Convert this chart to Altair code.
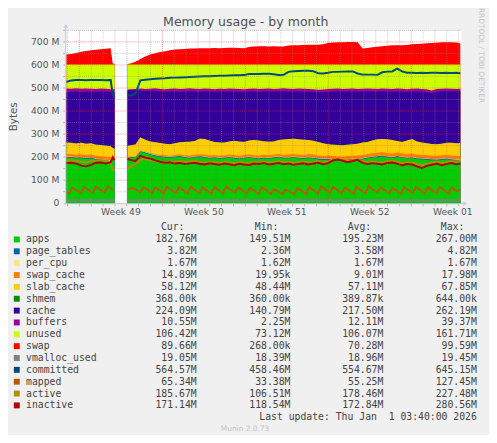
import altair as alt
import pandas as pd

# ---------------- data (values in M bytes) ----------------
RAM_TOTAL = 602  # flat top of the 'unused' band

# sample times: hours from the left edge of an 800 h window (2 h per pixel); gap = no data
hours_main = [0, 10, 20, 30, 40, 50, 60, 70, 80, 90, 94, 98] + [124, 130] + list(range(140, 800, 10)) + [798]
seg_main = ["a"] * 12 + ["b"] * 69

apps = [197, 197, 194, 196, 192, 194, 188, 186, 183, 180, 183, 182,
        196, 198, 198, 222, 218, 210, 205, 200, 198, 196,
        199, 201, 197, 195, 198, 200, 198, 194, 196, 193,
        195, 197, 194, 192, 195, 197, 194, 192, 195, 193,
        196, 198, 195, 195, 197, 195, 193, 196, 194, 190,
        188, 189, 187, 185, 184, 186, 188, 189, 191, 195,
        198, 200, 203, 199, 196, 201, 197, 194, 196, 192,
        190, 188, 187, 186, 188, 190, 187, 185, 183]
page_tables = [3.9, 3.8, 3.9, 4.0, 3.8, 3.9, 3.8, 3.7, 3.8, 3.7, 3.4, 3.2,
               2.4, 2.5, 2.8, 3.1, 3.2, 3.3, 3.4, 3.4, 3.5, 3.5,
               3.6, 3.5, 3.6, 3.6, 3.5, 3.6, 3.7, 3.6, 3.6, 3.5,
               3.6, 3.7, 3.6, 3.6, 3.7, 3.6, 3.5, 3.6, 3.7, 3.6,
               3.6, 3.7, 3.6, 3.5, 3.6, 3.7, 3.6, 3.6, 3.7, 3.6,
               3.5, 3.6, 3.7, 3.6, 3.6, 3.7, 3.6, 3.5, 3.6, 3.7,
               3.6, 3.7, 3.8, 3.7, 3.6, 3.7, 3.8, 3.7, 3.6, 3.7,
               3.8, 3.7, 3.7, 3.8, 3.7, 3.8, 3.8, 3.7, 3.82]
per_cpu = [1.67, 1.67, 1.67, 1.67, 1.67, 1.67, 1.67, 1.67, 1.67, 1.67, 1.67, 1.67,
           1.62, 1.64, 1.66, 1.67, 1.67, 1.67, 1.67, 1.67, 1.67, 1.67,
           1.67, 1.67, 1.67, 1.67, 1.67, 1.67, 1.67, 1.67, 1.67, 1.67,
           1.67, 1.67, 1.67, 1.67, 1.67, 1.67, 1.67, 1.67, 1.67, 1.67,
           1.67, 1.67, 1.67, 1.67, 1.67, 1.67, 1.67, 1.67, 1.67, 1.67,
           1.67, 1.67, 1.67, 1.67, 1.67, 1.67, 1.67, 1.67, 1.67, 1.67,
           1.67, 1.67, 1.67, 1.67, 1.67, 1.67, 1.67, 1.67, 1.67, 1.67,
           1.67, 1.67, 1.67, 1.67, 1.67, 1.67, 1.67, 1.67, 1.67]
swap_cache = [10.5, 10.8, 11.2, 11.0, 11.6, 11.9, 12.1, 12.4, 12.2, 12.8, 2.0, 0.5,
              0.1, 0.2, 0.9, 1.8, 2.4, 2.9, 3.8, 4.1, 4.9, 5.3,
              5.4, 6.2, 6.1, 6.8, 7.0, 7.1, 7.6, 7.5, 7.9, 8.2,
              8.1, 8.6, 8.5, 9.0, 8.9, 9.5, 9.4, 9.9, 9.8, 10.3,
              10.2, 10.7, 10.6, 11.2, 11.0, 11.5, 11.4, 11.8, 11.7, 12.2,
              12.0, 12.5, 12.3, 12.6, 12.7, 13.1, 12.9, 13.2, 13.1, 13.4,
              13.3, 13.7, 13.6, 13.9, 13.8, 14.2, 14.0, 14.3, 14.2, 14.5,
              14.4, 14.6, 14.5, 14.7, 14.6, 14.8, 14.7, 14.9, 14.9]
slab_cache = [50.2, 49.1, 48.6, 49.9, 48.7, 48.9, 48.5, 49.1, 49.0, 48.8, 49.5, 49.6,
              48.5, 49.0, 51.0, 57.0, 50.5, 50.0, 51.0, 52.6, 50.0, 49.5,
              50.3, 52.5, 57.6, 59.9, 59.7, 67.6, 67.5, 65.2, 56.8, 57.5,
              54.6, 57.1, 63.2, 61.7, 56.8, 60.2, 66.3, 64.8, 58.9, 58.4,
              56.5, 60.0, 66.1, 67.0, 66.7, 66.2, 66.3, 60.9, 60.0, 58.5,
              54.7, 49.2, 49.4, 50.1, 50.0, 49.6, 49.8, 50.5, 53.6, 52.3,
              55.4, 58.0, 57.1, 58.8, 58.9, 49.5, 49.7, 58.4, 63.5, 56.2,
              53.3, 52.1, 50.2, 50.0, 50.1, 51.9, 55.0, 54.8, 58.1]
shmem = [0.40, 0.40, 0.40, 0.40, 0.40, 0.40, 0.40, 0.40, 0.40, 0.40, 0.40, 0.40,
         0.36, 0.36, 0.37, 0.37, 0.37, 0.37, 0.37, 0.37, 0.37, 0.37,
         0.37, 0.37, 0.37, 0.37, 0.37, 0.37, 0.37, 0.37, 0.37, 0.37,
         0.37, 0.37, 0.37, 0.37, 0.37, 0.37, 0.37, 0.37, 0.37, 0.37,
         0.37, 0.37, 0.37, 0.37, 0.37, 0.37, 0.37, 0.37, 0.37, 0.37,
         0.37, 0.37, 0.37, 0.37, 0.37, 0.37, 0.37, 0.37, 0.37, 0.37,
         0.37, 0.37, 0.37, 0.37, 0.37, 0.37, 0.37, 0.37, 0.37, 0.37,
         0.37, 0.37, 0.37, 0.37, 0.37, 0.37, 0.37, 0.37, 0.37]
cache = [218.6, 219.4, 224.5, 219.4, 226.0, 222.5, 228.7, 231.8, 234.1, 235.7, 241.8, 246.2,
         241.7, 239.1, 235.4, 203.5, 210.4, 218.4, 222.5, 222.6, 224.4, 228.5,
         225.6, 217.6, 218.6, 219.6, 213.6, 203.6, 207.2, 211.6, 216.6, 221.6,
         220.6, 217.6, 212.6, 215.6, 216.6, 212.6, 210.6, 210.6, 215.6, 218.6,
         216.6, 210.6, 208.6, 206.1, 203.6, 207.6, 207.6, 209.6, 212.6, 213.6,
         221.6, 226.6, 230.6, 232.6, 232.6, 230.6, 228.6, 225.6, 221.6, 219.6,
         211.6, 206.6, 207.6, 207.6, 209.6, 214.6, 218.6, 210.6, 206.6, 217.6,
         220.6, 220.6, 219.6, 227.6, 226.6, 224.6, 223.6, 225.6, 224.8]
buffers = [16, 15, 15, 14, 14, 14, 13, 13, 13, 12, 12, 12,
           3, 4, 6, 8, 9, 10, 11, 11, 12, 12,
           12, 13, 12, 12, 13, 12, 12, 13, 12, 11,
           12, 12, 13, 12, 11, 12, 12, 13, 12, 12,
           11, 12, 13, 12, 12, 12, 13, 12, 11, 12,
           12, 13, 12, 12, 11, 12, 13, 12, 12, 12,
           13, 12, 11, 12, 12, 13, 12, 12, 11, 12,
           12, 13, 12, 11, 12, 11, 11, 10, 10.5]
swap = [43, 46, 50, 55, 59, 62, 64, 66, 68, 71, 4, 3,
        2, 4, 12, 24, 35, 43, 49, 54, 58, 62,
        65, 66, 67, 69, 69, 70, 70, 71, 72, 71,
        72, 73, 73, 72, 71, 76, 78, 79, 79, 78,
        79, 78, 78, 82, 83, 84, 85, 86, 86, 86,
        88, 93, 95, 96, 97, 98, 98, 97, 69, 72,
        75, 77, 79, 81, 83, 83, 83, 85, 88, 89,
        90, 92, 93, 94, 96, 97, 96, 95, 91]

committed = [526, 533, 535, 535, 534, 535, 535, 535, 534, 535, 470, 459,
             470, 467, 475, 533, 536, 538, 540, 541, 542, 544,
             545, 546, 547, 548, 549, 550, 551, 551, 552, 553,
             553, 554, 555, 555, 556, 561, 561, 561, 562, 562,
             560, 556, 557, 570, 573, 574, 575, 575, 573, 564,
             563, 566, 570, 570, 571, 572, 572, 563, 558, 558,
             558, 557, 568, 571, 572, 584, 572, 566, 566, 565,
             566, 565, 566, 566, 565, 566, 565, 566, 564]
active = [185, 186, 184, 180, 178, 182, 186, 187, 183, 176, 145, 140,
          150, 158, 170, 188, 192, 186, 183, 180, 178, 182,
          179, 183, 178, 181, 184, 179, 176, 180, 178, 175,
          179, 177, 174, 178, 176, 174, 179, 177, 181, 176,
          178, 182, 177, 180, 175, 178, 181, 176, 179, 183,
          177, 181, 190, 192, 188, 184, 187, 190, 182, 178,
          181, 178, 176, 182, 184, 180, 174, 178, 176, 170,
          165, 172, 176, 180, 174, 178, 182, 180, 185]
inactive = [175, 176, 172, 163, 160, 166, 176, 177, 172, 178, 200, 186,
            192, 188, 183, 205, 198, 194, 186, 180, 176, 178,
            172, 175, 170, 173, 176, 171, 168, 173, 170, 167,
            172, 169, 165, 171, 168, 166, 172, 170, 174, 168,
            171, 175, 169, 172, 167, 170, 173, 168, 172, 176,
            169, 174, 186, 190, 184, 178, 183, 188, 175, 170,
            174, 171, 168, 175, 177, 172, 165, 170, 168, 160,
            152, 162, 167, 172, 165, 170, 174, 169, 171]

# mapped: daily saw-tooth, sampled every 6 h
hours_mapped = list(range(0, 97, 6)) + list(range(126, 799, 6))
seg_mapped = ["a"] * 17 + ["b"] * 113
mapped = [50, 44, 68, 60, 52, 45, 70, 62, 53, 46, 72, 63, 55, 47, 73, 64, 58,
          58, 66, 62, 55, 48, 70, 62, 53, 45, 68, 60, 51, 44, 72, 63, 52,
          46, 69, 61, 52, 43, 71, 62, 51, 45, 68, 60, 50, 42, 70, 61, 52,
          44, 73, 63, 53, 46, 69, 60, 51, 43, 67, 59, 50, 41, 70, 61, 51,
          40, 60, 54, 47, 41, 58, 52, 45, 42, 66, 58, 49, 40, 70, 61, 51,
          43, 73, 64, 53, 45, 71, 62, 52, 44, 68, 60, 50, 42, 70, 61, 51,
          45, 74, 64, 54, 47, 69, 61, 52, 43, 67, 59, 50, 41, 70, 62, 51,
          44, 72, 63, 52, 42, 69, 60, 50, 45, 71, 62, 52, 43, 68, 60, 51,
          62]

hours_vmalloc = [0, 98, 124, 798]
seg_vmalloc = ["a", "a", "b", "b"]
vmalloc_used = [13, 13, 13, 13]

for arr in (apps, page_tables, per_cpu, swap_cache, slab_cache, shmem, cache, buffers, swap,
            committed, active, inactive):
    assert len(arr) == len(hours_main), len(arr)
assert len(mapped) == len(hours_mapped)

# axis / legend text
y_ticks = [0, 100, 200, 300, 400, 500, 600, 700]
y_tick_labels = ["0", "100 M", "200 M", "300 M", "400 M", "500 M", "600 M", "700 M"]
y_minor = [50, 150, 250, 350, 450, 550, 650, 750]
week_bounds = [26.6, 194.6, 362.6, 530.6, 698.6]
week_centers = [110.6, 278.6, 446.6, 614.6, 782.6]
week_labels = ["Week 49", "Week 50", "Week 51", "Week 52", "Week 01"]
day_lines = [round(2.6 + 24 * k, 1) for k in range(34)]
day_lines = [d for d in day_lines if d not in week_bounds]

legend_names = ["apps", "page_tables", "per_cpu", "swap_cache", "slab_cache", "shmem", "cache",
                "buffers", "unused", "swap", "vmalloc_used", "committed", "mapped", "active", "inactive"]
legend_colors = ["#00CC00", "#0066B3", "#FFE680", "#FF8000", "#FFCC00", "#008F00", "#330099",
                 "#990099", "#CCFF00", "#FF0000", "#808080", "#00487D", "#B35A00", "#B38F00", "#B30000"]
legend_cur = ["182.76M", "3.82M", "1.67M", "14.89M", "58.12M", "368.00k", "224.09M", "10.55M",
              "106.42M", "89.66M", "19.05M", "564.57M", "65.34M", "185.67M", "171.14M"]
legend_min = ["149.51M", "2.36M", "1.62M", "19.95k", "48.44M", "360.00k", "140.79M", "2.25M",
              "73.12M", "268.00k", "18.39M", "458.46M", "33.38M", "106.51M", "118.54M"]
legend_avg = ["195.23M", "3.58M", "1.67M", "9.01M", "57.11M", "389.87k", "217.50M", "12.11M",
              "106.07M", "70.28M", "18.96M", "554.67M", "55.25M", "178.46M", "172.84M"]
legend_max = ["267.00M", "4.82M", "1.67M", "17.98M", "67.85M", "644.00k", "262.19M", "39.37M",
              "161.71M", "99.59M", "19.45M", "645.15M", "127.45M", "227.48M", "280.56M"]
col = dict(zip(legend_names, legend_colors))

# ---------------- build stack ----------------
vals = {"apps": apps, "page_tables": page_tables, "per_cpu": per_cpu, "swap_cache": swap_cache,
        "slab_cache": slab_cache, "shmem": shmem, "cache": cache, "buffers": buffers}
N = len(hours_main)
vals["unused"] = [RAM_TOTAL - sum(vals[s][i] for s in list(vals)) for i in range(N)]
vals["swap"] = swap
stack_order = ["apps", "page_tables", "per_cpu", "swap_cache", "slab_cache", "shmem",
               "cache", "buffers", "unused", "swap"]
tops = {}
run = [0.0] * N
for s in stack_order:
    run = [run[i] + vals[s][i] for i in range(N)]
    tops[s] = run

W, H = 400, 175
XS = alt.Scale(domain=[0, 800], nice=False, zero=False)
YS = alt.Scale(domain=[0, 750], nice=False, zero=True)

layers = []
for s in reversed(stack_order):
    d = pd.DataFrame({"h": hours_main, "seg": seg_main, "top": tops[s]})
    layers.append(alt.Chart(d).mark_area(color=col[s], opacity=1, interpolate="linear").encode(
        x=alt.X("h:Q", scale=XS, axis=None),
        y=alt.Y("top:Q", scale=YS, axis=None, stack=None),
        detail="seg:N"))


def line_layer(h, seg, v, color):
    d = pd.DataFrame({"h": h, "seg": seg, "v": v})
    return alt.Chart(d).mark_line(color=color, strokeWidth=2, interpolate="linear").encode(
        x=alt.X("h:Q", scale=XS, axis=None),
        y=alt.Y("v:Q", scale=YS, axis=None, stack=None),
        detail="seg:N")


layers.append(line_layer(hours_vmalloc, seg_vmalloc, vmalloc_used, col["vmalloc_used"]))
layers.append(line_layer(hours_main, seg_main, committed, col["committed"]))
layers.append(line_layer(hours_mapped, seg_mapped, mapped, col["mapped"]))
layers.append(line_layer(hours_main, seg_main, active, col["active"]))
layers.append(line_layer(hours_main, seg_main, inactive, col["inactive"]))

# grid (drawn over the graph like rrdtool)
minor_color, major_color = "#8c8c8c", "#ff3030"
layers.append(alt.Chart(pd.DataFrame({"h": day_lines})).mark_rule(
    color=minor_color, opacity=0.45, strokeDash=[1, 1], strokeWidth=1).encode(
    x=alt.X("h:Q", scale=XS, axis=None), y=alt.value(0), y2=alt.value(H)))
layers.append(alt.Chart(pd.DataFrame({"v": y_minor})).mark_rule(
    color=minor_color, opacity=0.45, strokeDash=[1, 1], strokeWidth=1).encode(
    y=alt.Y("v:Q", scale=YS, axis=None), x=alt.value(0), x2=alt.value(W)))
layers.append(alt.Chart(pd.DataFrame({"h": week_bounds})).mark_rule(
    color=major_color, opacity=0.5, strokeDash=[1, 1], strokeWidth=1).encode(
    x=alt.X("h:Q", scale=XS, axis=None), y=alt.value(0), y2=alt.value(H)))
layers.append(alt.Chart(pd.DataFrame({"v": y_ticks[1:]})).mark_rule(
    color=major_color, opacity=0.5, strokeDash=[1, 1], strokeWidth=1).encode(
    y=alt.Y("v:Q", scale=YS, axis=None), x=alt.value(0), x2=alt.value(W)))

# small ticks on the axes
layers.append(alt.Chart(pd.DataFrame({"h": day_lines + week_bounds})).mark_rule(
    color="#b0b0b0", strokeWidth=1).encode(
    x=alt.X("h:Q", scale=XS, axis=None), y=alt.value(H + 1), y2=alt.value(H + 3)))
layers.append(alt.Chart(pd.DataFrame({"v": y_ticks[1:] + y_minor})).mark_rule(
    color="#b0b0b0", strokeWidth=1).encode(
    y=alt.Y("v:Q", scale=YS, axis=None), x=alt.value(-3), x2=alt.value(-1)))

# axis lines and arrows
one = pd.DataFrame({"a": [0]})
axis_color, arrow_color = "#C4C8DC", "#C8D0F0"
layers.append(alt.Chart(one).mark_rule(color=axis_color, strokeWidth=1).encode(
    x=alt.value(-0.5), y=alt.value(-3), y2=alt.value(H + 1.5)))
layers.append(alt.Chart(one).mark_rule(color=axis_color, strokeWidth=1).encode(
    x=alt.value(-3), x2=alt.value(W + 2), y=alt.value(H + 0.5)))
layers.append(alt.Chart(one).mark_point(shape="triangle-up", filled=True, size=26, opacity=1,
                                        color=arrow_color).encode(x=alt.value(-0.5), y=alt.value(-4.5)))
layers.append(alt.Chart(one).mark_point(shape="triangle-right", filled=True, size=26, opacity=1,
                                        color=arrow_color).encode(x=alt.value(W + 4), y=alt.value(H + 0.5)))

# axis labels
layers.append(alt.Chart(pd.DataFrame({"v": y_ticks, "t": y_tick_labels})).mark_text(
    font="DejaVu Sans", fontSize=9.3, color="#555555", baseline="middle", align="right").encode(
    y=alt.Y("v:Q", scale=YS, axis=None), x=alt.value(-7), text="t:N"))
layers.append(alt.Chart(pd.DataFrame({"h": week_centers, "t": week_labels})).mark_text(
    font="DejaVu Sans", fontSize=9.3, color="#555555", baseline="middle", align="center").encode(
    x=alt.X("h:Q", scale=XS, axis=None), y=alt.value(184.3), text="t:N"))

# titles
layers.append(alt.Chart(pd.DataFrame({"t": ["Memory usage - by month"]})).mark_text(
    font="DejaVu Sans", fontSize=12.7, color="#505050", align="center", baseline="alphabetic").encode(
    x=alt.value(181.7), y=alt.value(-4), text="t:N"))
layers.append(alt.Chart(pd.DataFrame({"t": ["Bytes"]})).mark_text(
    font="DejaVu Sans", fontSize=10.5, color="#555555", align="center", baseline="middle", angle=270).encode(
    x=alt.value(-53), y=alt.value(87.5), text="t:N"))
layers.append(alt.Chart(pd.DataFrame({"t": ["RRDTOOL / TOBI OETIKER"]})).mark_text(
    font="DejaVu Sans", fontSize=7.5, color="#c4c4c4", align="center", baseline="middle", angle=90).encode(
    x=alt.value(420), y=alt.value(25.5), text="t:N"))

# legend
rows = pd.DataFrame({"name": legend_names, "color": legend_colors, "cur": legend_cur,
                     "min": legend_min, "avg": legend_avg, "max": legend_max})
rows["py"] = [211.7 + 12 * i for i in range(len(rows))]
mono = dict(font="DejaVu Sans Mono", fontSize=9.9, color="#444444", baseline="middle")
layers.append(alt.Chart(rows).mark_square(size=36, filled=True, opacity=1).encode(
    x=alt.value(-50.1), y=alt.Y("py:Q", scale=None), color=alt.Color("color:N", scale=None)))
layers.append(alt.Chart(rows).mark_text(align="left", **mono).encode(
    x=alt.value(-40.7), y=alt.Y("py:Q", scale=None), text="name:N"))
for field, px in (("cur", 132), ("min", 227), ("avg", 321), ("max", 415.7)):
    layers.append(alt.Chart(rows).mark_text(align="right", **mono).encode(
        x=alt.value(px), y=alt.Y("py:Q", scale=None), text=f"{field}:N"))
heads = pd.DataFrame({"t": ["Cur:", "Min:", "Avg:", "Max:"], "px": [119.7, 214.7, 308.7, 403.0]})
layers.append(alt.Chart(heads).mark_text(align="right", **mono).encode(
    x=alt.X("px:Q", scale=None), y=alt.value(199.3), text="t:N"))
layers.append(alt.Chart(pd.DataFrame({"t": ["Last update: Thu Jan\u00a0\u00a01 03:40:00 2026"]})).mark_text(
    align="right", **mono).encode(x=alt.value(415.7), y=alt.value(391.7), text="t:N"))
layers.append(alt.Chart(pd.DataFrame({"t": ["Munin 2.0.73"]})).mark_text(
    font="DejaVu Sans", fontSize=7.5, color="#c4c4c4", align="center", baseline="middle").encode(
    x=alt.value(181), y=alt.value(404), text="t:N"))

chart = alt.layer(*layers).properties(
    width=W, height=H,
    padding={"left": 59, "top": 20, "right": 28, "bottom": 232},
    autosize=alt.AutoSizeParams(type="none"),
    background="#F0F0F0",
).configure_view(strokeWidth=0, fill="#FFFFFF")

chart.save("out.html", embed_options={"renderer": "svg", "actions": False})
